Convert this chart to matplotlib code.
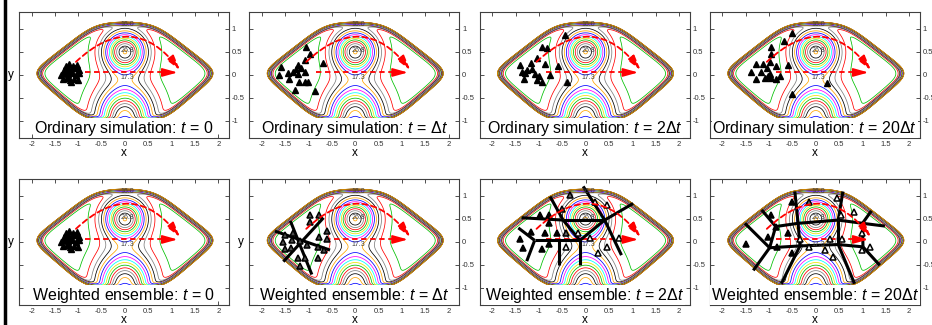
import numpy as np
import matplotlib
matplotlib.use('Agg')
import matplotlib.pyplot as plt
from matplotlib.lines import Line2D

plt.rcParams['font.family'] = ['Liberation Sans', 'DejaVu Sans']
plt.rcParams['mathtext.fontset'] = 'custom'
plt.rcParams['mathtext.it'] = 'Liberation Sans:italic'
plt.rcParams['mathtext.rm'] = 'Liberation Sans'

# energy surface: gaussian hills (x0, y0, sx, sy, height) on a flat floor inside a steep wall
gx0 = [0.0, 0.0]
gy0 = [0.5, -0.95]
gsx = [0.43, 0.55]
gsy = [0.43, 0.68]
gamp = [16.8, 18.0]
wall_height = 28.0
floor_level = 10.0
levels_step = 1.25

contour_labels = ['16.0', '26.8', '17.3']
label_y = [1.08, 0.53, -0.05]

# particles: ordinary simulation
ord0_x = [-1.36, -1.29, -1.21, -1.13, -1.05, -0.98, -1.33, -1.25, -1.17, -1.09, -1.01,
          -1.31, -1.23, -1.15, -1.07, -0.99, -1.27, -1.19, -1.11, -1.03, -1.15, -1.22]
ord0_y = [0.0, 0.03, 0.01, 0.04, 0.0, 0.03, -0.1, -0.08, -0.11, -0.09, -0.12,
          0.1, 0.13, 0.11, 0.14, 0.1, 0.2, 0.23, 0.19, 0.22, -0.15, -0.04]
ord1_x = [-1.05, -0.98, -1.08, -0.70, -1.59, -1.23, -1.16, -1.27, -1.34, -1.45, -1.63,
          -1.23, -1.08, -1.41, -1.20, -1.08, -1.01, -1.30, -0.87]
ord1_y = [0.61, 0.46, 0.33, 0.26, 0.17, 0.22, 0.14, 0.12, 0.07, 0.04, -0.01,
          0.01, 0.07, -0.10, -0.15, -0.15, -0.15, -0.33, -0.35]
ord2_x = [-0.43, -0.94, -0.82, -1.03, -1.40, -1.16, -0.86, -0.59, -1.25, -1.14,
          -1.37, -1.29, -1.08, -0.99, -0.76, -0.94, -1.03, -1.32, -0.40]
ord2_y = [0.86, 0.60, 0.57, 0.36, 0.21, 0.25, 0.23, 0.19, 0.10, 0.12,
          0.07, 0.04, 0.02, -0.03, -0.01, -0.15, -0.12, -0.10, -0.15]
ord20_x = [-0.50, -0.68, -0.95, -0.95, -0.98, -0.60, -1.28, -1.13, -0.85, -1.38, -1.05,
           -1.17, -0.98, -1.02, -0.77, -1.28, -1.09, -0.95, -0.85, 0.24, -0.50]
ord20_y = [0.90, 0.73, 0.61, 0.44, 0.28, 0.21, 0.23, 0.23, 0.20, 0.07, 0.14,
           0.07, 0.02, -0.03, -0.03, -0.10, -0.08, -0.07, -0.10, -0.17, -0.42]

# weighted ensemble particles (face grey level: 0 black, 1 white)
we1_x = [-0.97, -0.78, -0.97, -0.61, -1.51, -1.33, -0.78, -1.36, -1.54, -0.61,
         -1.18, -1.04, -0.79, -0.68, -1.51, -1.37, -1.22, -1.08, -0.79, -1.19]
we1_y = [0.58, 0.57, 0.43, 0.23, 0.14, 0.18, 0.11, 0.03, 0.0, 0.05,
         0.01, -0.06, -0.11, -0.18, -0.16, -0.13, -0.35, -0.35, -0.36, -0.52]
we1_face = [0.3] * 20
we2_x = [-0.34, 0.20, 0.45, -0.51, -0.98, -0.78, -0.78, -1.16, -0.87, -0.62, -0.42,
         -0.16, 0.09, 0.72, -1.41, -0.78, -1.34, -0.42, -0.94, 0.45, 0.27]
we2_y = [1.01, 0.87, 0.80, 0.71, 0.58, 0.57, 0.40, 0.22, 0.18, 0.18, 0.18,
         0.18, 0.09, 0.09, 0.05, -0.04, -0.13, -0.11, -0.16, -0.11, -0.25]
we2_face = [0.4, 1, 1, 0.4, 0, 0, 0, 0, 0, 0, 0.4, 1, 1, 1, 0, 0, 0, 1, 0, 1, 1]
we20_x = [-0.50, -0.15, 0.45, 0.81, -0.95, 0.55, -0.86, -0.60, 0.98, -1.02, -1.49,
          -0.34, 0.30, 0.57, -0.84, -0.15, 0.19, 1.00, 1.17, -0.50, 0.37]
we20_y = [0.87, 0.87, 0.94, 0.65, 0.58, 0.57, 0.33, 0.18, 0.20, 0.11, -0.04,
          0.05, 0.05, 0.05, -0.11, -0.11, -0.18, -0.18, -0.11, -0.25, -0.33]
we20_face = [0, 0.4, 1, 1, 0, 1, 0, 0, 1, 0, 0, 1, 1, 1, 0, 1, 1, 1, 1, 0, 1]

# bin boundaries (x1, y1, x2, y2)
bins1 = [(-1.72, 0.23, -0.54, -0.18), (-1.39, 0.45, -0.93, -0.71), (-1.54, -0.43, -0.68, 0.52)]
bins2 = [(-1.44, 0.30, -1.09, 0.03), (-1.09, 0.03, -0.12, 0.03), (-1.09, 0.03, -1.26, -0.42),
         (-1.37, 0.52, -0.48, 0.47), (-0.76, 0.98, -0.48, 0.47), (-0.48, 0.47, -0.12, 0.03),
         (-0.57, 0.03, -0.57, -0.51), (-0.12, 0.03, -0.12, -0.51), (-0.48, 0.47, 0.41, 0.47),
         (-0.12, 0.03, 0.41, 0.47), (0.41, 0.47, 1.02, 0.83), (0.41, 0.47, -0.05, 1.20),
         (0.41, 0.47, 0.77, -0.29)]
bins20 = [(-1.52, 0.40, -0.99, -0.13), (-1.16, 0.69, -0.86, 0.33), (-0.86, 0.33, -0.99, -0.13),
          (-0.99, -0.13, -1.34, -0.62), (-0.86, 0.33, -0.38, 0.40), (-0.38, 0.40, 0.48, 0.47),
          (0.48, 0.47, 1.00, 0.40), (1.00, 0.40, 1.19, 0.67), (1.00, 0.40, 1.48, 0.34),
          (1.00, 0.40, 1.01, -0.11), (1.01, -0.11, 1.37, -0.51), (-0.99, -0.13, -0.34, -0.09),
          (-0.34, -0.09, 0.48, -0.06), (0.48, -0.06, 1.01, -0.11), (-0.45, 1.09, -0.38, 0.40),
          (-0.38, 0.40, -0.34, -0.09), (-0.34, -0.09, -0.74, -0.91), (0.58, 1.09, 0.48, 0.47),
          (0.48, 0.47, 0.48, -0.06), (0.48, -0.06, 0.83, -0.91)]

titles_top = ['Ordinary simulation: $t$ = 0', 'Ordinary simulation: $t$ = Δ$t$',
              'Ordinary simulation: $t$ = 2Δ$t$', 'Ordinary simulation: $t$ = 20Δ$t$']
titles_bot = ['Weighted ensemble: $t$ = 0', 'Weighted ensemble: $t$ = Δ$t$',
              'Weighted ensemble: $t$ = 2Δ$t$', 'Weighted ensemble: $t$ = 20Δ$t$']

# surface on a grid
xs = np.linspace(-2.3, 2.3, 500)
ys = np.linspace(-1.4, 1.4, 320)
X, Y = np.meshgrid(xs, ys)
A = np.abs(X)
faces = [Y / 1.15, -Y / 1.02, (A + 1.27 * Y) / 2.07, (A - 1.15 * Y) / 1.98]
p = 10
D = sum(np.clip(f, 0, None) ** p for f in faces) ** (1.0 / p)
V = floor_level + wall_height * D ** 40
for x0, y0, sx, sy, a in zip(gx0, gy0, gsx, gsy, gamp):
    V = V + a * np.exp(-((X - x0) / sx) ** 2 - ((Y - y0) / sy) ** 2)
levels = np.arange(floor_level + 0.6, floor_level + wall_height + 0.6, levels_step)
gp_colors = ['#00c000', 'red', 'gray', 'black', 'orange', 'blue', 'magenta', 'cyan', '#e8e800']

W, H = 932, 325
lefts = [19, 249.3, 479.6, 709.9]


def panel(left, top, title, px, py, face=None, bins=None, ylab=False, rlab=True):
    ax = fig.add_axes([left / W, (H - top - 126) / H, 210 / W, 126 / H])
    ax.contour(X, Y, V, levels=levels, colors=gp_colors, linewidths=0.55)
    for s, yy in zip(contour_labels, label_y):
        ax.text(0.06, yy, s, fontsize=5, ha='center', va='center', color='0.25')
    ax.plot([-0.85, 0.85], [0.05, 0.05], color='red', ls=(0, (3, 2)), lw=1.3)
    ax.annotate('', xy=(1.13, 0.05), xytext=(0.8, 0.05),
                arrowprops=dict(arrowstyle='-|>,head_length=0.9,head_width=0.25',
                                color='red', lw=1.3, shrinkA=0, shrinkB=0))
    ax.annotate('', xy=(1.18, 0.1), xytext=(-1.05, 0.28),
                arrowprops=dict(arrowstyle='-|>,head_length=0.9,head_width=0.25',
                                color='red', lw=1.3, ls=(0, (3, 2)), shrinkA=0, shrinkB=0,
                                connectionstyle='arc3,rad=-0.55'))
    if bins:
        for x1, y1, x2, y2 in bins:
            ax.plot([x1, x2], [y1, y2], color='black', lw=2.2, solid_capstyle='butt')
    if face is None:
        ax.plot(px, py, '^', color='black', ms=5, mec='black')
    else:
        for xx, yy, f in zip(px, py, face):
            ax.plot(xx, yy, '^', ms=5, mfc=str(f), mec='black', mew=1.1)
    ax.text(-0.02, -1.16, title, fontsize=11.5, ha='center', va='center', clip_on=True,
            bbox=dict(fc='white', ec='none', pad=0.5))
    ax.set_xlim(-2.27, 2.23)
    ax.set_ylim(-1.37, 1.36)
    ax.set_xticks(np.arange(-2, 2.01, 0.5))
    ax.set_xticklabels(['-2', '-1.5', '-1', '-0.5', '0', '0.5', '1', '1.5', '2'])
    ax.set_yticks([-1, -0.5, 0, 0.5, 1])
    ax.set_yticklabels(['-1', '-0.5', '0', '0.5', '1'])
    ax.tick_params(direction='in', length=3, width=0.6, top=True, right=True, left=True,
                   labelleft=False, labelright=rlab, labelsize=5.5, pad=2, colors='0.2')
    for sp in ax.spines.values():
        sp.set_linewidth(0.8)
        sp.set_color('0.25')
    ax.set_xlabel('x', fontsize=8.5, labelpad=-0.5)
    if ylab:
        ax.set_ylabel('y', fontsize=8.5, rotation=0, va='center', labelpad=6)
    return ax


fig = plt.figure(figsize=(W / 100, H / 100), dpi=100)
panel(lefts[0], 12, titles_top[0], ord0_x, ord0_y, ylab=True)
panel(lefts[1], 12, titles_top[1], ord1_x, ord1_y)
panel(lefts[2], 12, titles_top[2], ord2_x, ord2_y)
panel(lefts[3], 12, titles_top[3], ord20_x, ord20_y)
panel(lefts[0], 179, titles_bot[0], ord0_x, ord0_y, ylab=True, rlab=False)
panel(lefts[1], 179, titles_bot[1], we1_x, we1_y, we1_face, bins1, ylab=True)
panel(lefts[2], 179, titles_bot[2], we2_x, we2_y, we2_face, bins2)
panel(lefts[3], 179, titles_bot[3], we20_x, we20_y, we20_face, bins20)

fig.add_artist(Line2D([4.5 / W, 4.5 / W], [0, 1], color='black', lw=2.5))

fig.savefig('out.png', dpi=100, facecolor='white')
